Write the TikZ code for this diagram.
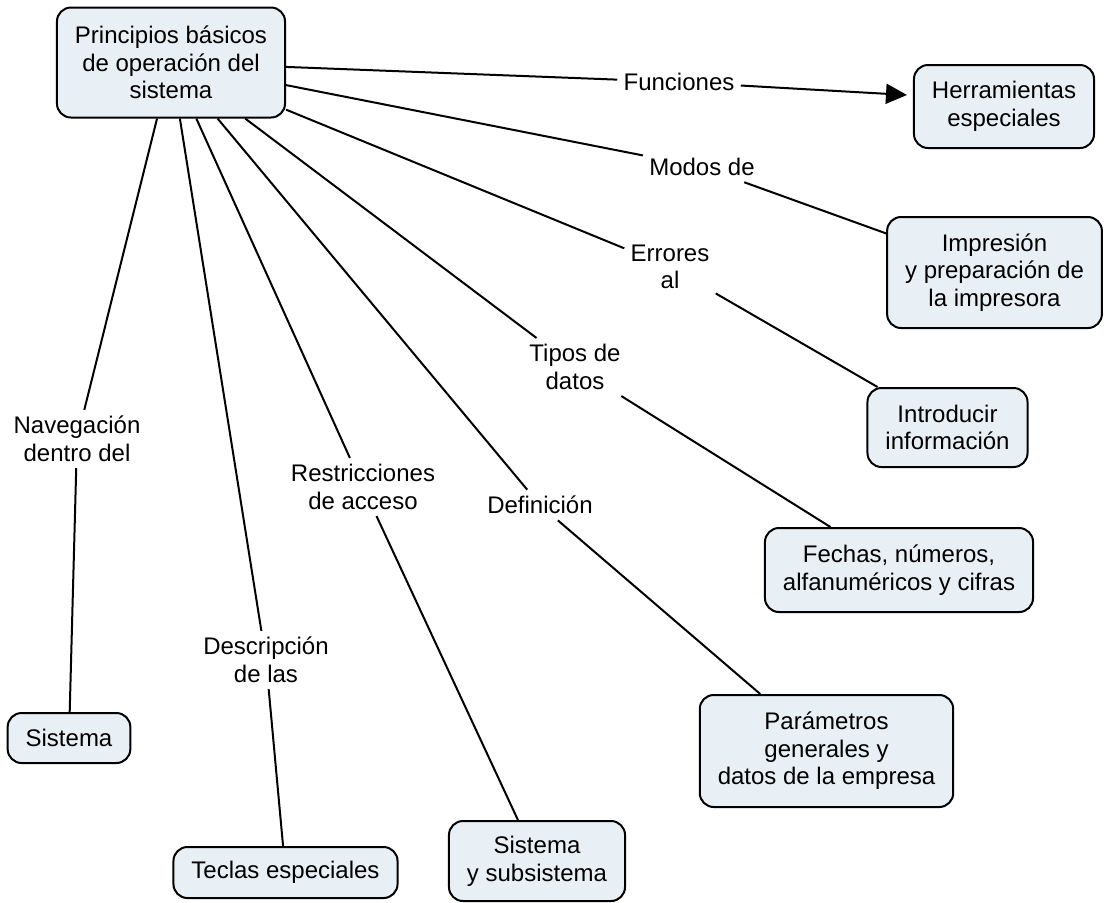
\documentclass[tikz,border=0pt]{standalone}
\usepackage{fontspec}
\setmainfont{Liberation Sans}
\usetikzlibrary{arrows.meta}
\definecolor{conceptfill}{RGB}{232,240,245}

\begin{document}
\begin{tikzpicture}[x=0.5pt,y=-0.5pt,
  concept/.style={draw, line width=1pt, fill=conceptfill, rounded corners=7pt,
    align=center, inner xsep=9pt, inner ysep=2pt,
    font=\fontsize{12pt}{13.8pt}\selectfont},
  linkword/.style={align=center, inner sep=3pt,
    font=\fontsize{12pt}{13.8pt}\selectfont},
  link/.style={line width=1pt}]

  \useasboundingbox (0,0) rectangle (1108,902);

  % Concepts
  \node[concept, minimum height=55pt] (main) at (171,62.5) {Principios básicos\\de operación del\\sistema};
  \node[concept, minimum height=41.5pt] (herr) at (1004,106.5) {Herramientas\\especiales};
  \node[concept, minimum height=55.5pt] (impr) at (994.5,272.5) {Impresión\\y preparación de\\la impresora};
  \node[concept, minimum height=39.5pt] (intro) at (947.5,427.5) {Introducir\\información};
  \node[concept, minimum height=42pt] (fechas) at (899,570) {Fechas, números,\\alfanuméricos y cifras};
  \node[concept, minimum height=56pt] (param) at (826.5,751) {Parámetros\\generales y\\datos de la empresa};
  \node[concept, minimum height=40pt] (subsis) at (537,861) {Sistema\\y subsistema};
  \node[concept, minimum height=25.5pt] (teclas) at (285.5,872.5) {Teclas especiales};
  \node[concept, minimum height=25pt] (sist) at (69,738) {Sistema};

  % Linking words
  \node[linkword] (lfun) at (679,82) {Funciones};
  \node[linkword] (lmodos) at (702,167) {Modos de};
  \node[linkword] (lerr) at (670,267) {Errores\\al};
  \node[linkword] (ltipos) at (575,367) {Tipos de\\datos};
  \node[linkword] (ldef) at (540,505) {Definición};
  \node[linkword] (lrestr) at (363,487) {Restricciones\\de acceso};
  \node[linkword] (ldesc) at (266,660) {Descripción\\de las};
  \node[linkword] (lnav) at (77,439) {Navegación\\dentro del};

  % Links
  \draw[link] (main) -- (lfun);
  \draw[link, -{Triangle[length=10.5pt,width=10pt]}, shorten >=3pt] (lfun) -- (herr.173);
  \draw[link] (main) -- (lmodos);
  \draw[link] (lmodos) -- (impr);
  \draw[link] (main) -- (lerr);
  \draw[link] (lerr) -- (intro);
  \draw[link] (main) -- (ltipos);
  \draw[link] (ltipos) -- (fechas);
  \draw[link] (main) -- (ldef);
  \draw[link] (ldef) -- (param);
  \draw[link] (main) -- (lrestr);
  \draw[link] (lrestr) -- (subsis);
  \draw[link] (main) -- (ldesc);
  \draw[link] (ldesc) -- (teclas);
  \draw[link] (main) -- (lnav);
  \draw[link] (lnav) -- (sist);
\end{tikzpicture}
\end{document}
